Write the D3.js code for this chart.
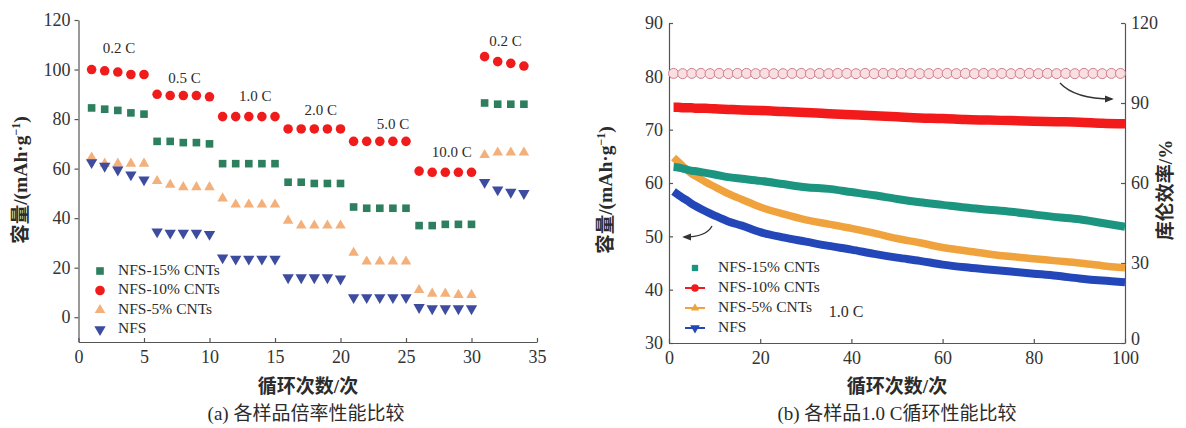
<!DOCTYPE html>
<html>
<head>
<meta charset="utf-8">
<script src="https://cdn.jsdelivr.net/npm/d3@7"></script>
<style>
  html, body { margin: 0; padding: 0; background: #fff; }
  svg text { font-family: "Liberation Serif", "Noto Sans CJK SC", serif; fill: #2b2b2b; }
  .axis path, .axis line { stroke: #555; stroke-width: 1.2; }
  .axis text { font-size: 18px; fill: #333; }
</style>
</head>
<body>
<svg id="chart" width="1186" height="428"></svg>
<script>
// ---------- (a) rate capability ----------
const rateCycles = d3.range(1, 35);
const rateNFS15 = [84.5, 84, 83.5, 82.5, 82,  71, 71, 70.5, 70.5, 70,  62, 62, 62, 62, 62,
                   54.5, 54.5, 54, 54, 54,  44.5, 44, 44, 44, 44,  37, 37, 37.5, 37.5, 37.5,
                   86.5, 86, 86, 86];
const rateNFS10 = [100, 99.5, 99, 98, 98,  90, 89.5, 89.5, 89.5, 89,  81, 81, 81, 81, 81,
                   76, 76, 76, 76, 76,  71, 71, 71, 71, 71,  59, 58.5, 58.5, 58.5, 58.5,
                   105.2, 103.2, 102.5, 101.4];
const rateNFS5  = [64.5, 62, 62, 62, 62,  55, 53.5, 52.5, 52.5, 52.5,  48, 45.5, 45.5, 45.5, 45.5,
                   39, 37, 37, 37, 37,  26, 22.5, 22.5, 22.5, 22.5,  11, 9.5, 9.5, 9, 9,
                   65.5, 66.5, 66.5, 66.5];
const rateNFS   = [62.5, 61, 59.5, 57.5, 55.5,  34.5, 34, 34, 34, 33.5,  24, 23.5, 23.5, 23.5, 23.5,
                   16, 16, 16, 16, 15.5,  8, 8, 8, 8, 8,  4, 3.5, 3.5, 3.5, 3.5,
                   54.5, 51.5, 50.5, 50];
const rateLabels = ["0.2 C", "0.5 C", "1.0 C", "2.0 C", "5.0 C", "10.0 C", "0.2 C"];
const rateLabelCycle = [3.1, 8.1, 13.5, 18.5, 24, 28.5, 32.6];
const rateLabelValue = [108, 96, 88.5, 83, 77.5, 66, 111];
const rateTicksX = [0, 5, 10, 15, 20, 25, 30, 35];
const rateTicksY = [0, 20, 40, 60, 80, 100, 120];

// ---------- (b) cycling at 1.0 C ----------
const cycCycles = [1, 2, 3, 4, 5, 6, 8, 10, 13, 16, 20, 25, 30, 35, 40, 45, 50, 55, 60, 65, 70, 75, 80, 85, 90, 95, 100];
const cycNFS15  = [63.0, 62.9, 62.7, 62.5, 62.3, 62.2, 61.9, 61.6, 61.1, 60.8, 60.4, 59.8, 59.2, 58.9, 58.3, 57.7, 57.0,
                   56.4, 55.9, 55.4, 55.0, 54.6, 54.1, 53.6, 53.2, 52.5, 51.8];
const cycNFS10  = [74.2, 74.2, 74.1, 74.1, 74.1, 74.0, 74.0, 73.9, 73.8, 73.7, 73.6, 73.4, 73.2, 73.0, 72.8, 72.6, 72.4,
                   72.2, 72.1, 71.9, 71.8, 71.7, 71.6, 71.5, 71.4, 71.2, 71.1];
const cycNFS5   = [64.8, 64.0, 63.2, 62.4, 61.7, 61.2, 60.2, 59.3, 58.0, 56.9, 55.5, 54.2, 53.1, 52.3, 51.5, 50.6, 49.6,
                   48.8, 47.9, 47.3, 46.7, 46.2, 45.8, 45.4, 45.0, 44.5, 44.1];
const cycNFS    = [58.4, 57.8, 57.2, 56.7, 56.1, 55.6, 54.7, 53.9, 52.8, 52.0, 50.8, 49.8, 49.0, 48.2, 47.5, 46.7, 46.0,
                   45.4, 44.7, 44.2, 43.8, 43.4, 43.0, 42.6, 42.1, 41.7, 41.4];
const ceCycles  = d3.range(1, 101, 2);
const ceValues  = [101.1, 101.0, 101.1, 101.1, 101.0, 101.1, 101.0, 101.1, 101.1, 101.0,
                   101.1, 101.0, 101.0, 101.1, 101.1, 101.0, 101.1, 101.0, 101.1, 101.1,
                   101.0, 101.1, 101.0, 101.1, 101.0, 101.1, 101.1, 101.0, 101.0, 101.1,
                   101.1, 101.0, 101.1, 101.0, 101.1, 101.0, 101.1, 101.0, 101.1, 101.1,
                   101.0, 101.1, 101.0, 101.1, 101.0, 101.1, 101.1, 101.0, 101.1, 101.1];
const cycTicksX = [0, 20, 40, 60, 80, 100];
const cycTicksYL = [30, 40, 50, 60, 70, 80, 90];
const cycTicksYR = [0, 30, 60, 90, 120];

const seriesNames = ["NFS-15% CNTs", "NFS-10% CNTs", "NFS-5% CNTs", "NFS"];

const svg = d3.select("#chart");
const defs = svg.append("defs");
defs.append("marker")
  .attr("id", "arrowHead").attr("viewBox", "0 0 10 10")
  .attr("refX", 8).attr("refY", 5).attr("markerWidth", 7).attr("markerHeight", 7)
  .attr("orient", "auto-start-reverse")
  .append("path").attr("d", "M0,1 L10,5 L0,9 Z").attr("fill", "#333");

// ================= panel (a) =================
const xa = d3.scaleLinear().domain([0, 35]).range([78.5, 537]);
const ya = d3.scaleLinear().domain([-10, 120]).range([342, 20]);
const ga = svg.append("g");

ga.append("g").attr("class", "axis")
  .attr("transform", `translate(0,${ya(-10)})`)
  .call(d3.axisBottom(xa).tickValues(rateTicksX).tickSize(-4).tickPadding(8).tickSizeOuter(0));
ga.append("g").attr("class", "axis")
  .attr("transform", `translate(${xa(0)},0)`)
  .call(d3.axisLeft(ya).tickValues(rateTicksY).tickSize(4).tickPadding(4).tickSizeOuter(0));

const aStyles = [
  { data: rateNFS15, color: "#2d7f5e", type: d3.symbolSquare, size: 58, rot: 0 },
  { data: rateNFS10, color: "#f01c1c", type: d3.symbolCircle, size: 72, rot: 0 },
  { data: rateNFS5,  color: "#f3b07a", type: d3.symbolTriangle, size: 48, rot: 0 },
  { data: rateNFS,   color: "#3d4c9e", type: d3.symbolTriangle, size: 56, rot: 180 }
];
aStyles.forEach(s => {
  ga.append("g").selectAll("path").data(rateCycles).join("path")
    .attr("d", d3.symbol().type(s.type).size(s.size)())
    .attr("transform", (c, i) => `translate(${xa(c)},${ya(s.data[i])}) rotate(${s.rot})`)
    .attr("fill", s.color);
});

ga.append("g").selectAll("text").data(rateLabels).join("text")
  .attr("x", (t, i) => xa(rateLabelCycle[i]))
  .attr("y", (t, i) => ya(rateLabelValue[i]))
  .attr("text-anchor", "middle").attr("dominant-baseline", "middle")
  .style("font-size", "15px").text(t => t);

// legend (a)
const legA = ga.append("g");
aStyles.forEach((s, i) => {
  const y = 271 + i * 19.5;
  legA.append("path")
    .attr("d", d3.symbol().type(s.type).size(s.size)())
    .attr("transform", `translate(100,${y}) rotate(${s.rot})`)
    .attr("fill", s.color);
  legA.append("text").attr("x", 118).attr("y", y)
    .attr("dominant-baseline", "middle").style("font-size", "15.5px")
    .text(seriesNames[i]);
});

// axis titles (a)
function capacityLabel(g, x, y) {
  const t = g.append("text")
    .attr("transform", `translate(${x},${y}) rotate(-90)`)
    .attr("text-anchor", "middle").style("font-size", "19.5px").style("font-weight", "bold");
  t.append("tspan").text("容量/(mAh·g");
  t.append("tspan").attr("dy", -7).style("font-size", "12px").text("−1");
  t.append("tspan").attr("dy", 7).text(")");
}
capacityLabel(ga, 27, 180);
ga.append("text").attr("x", 308).attr("y", 389).attr("text-anchor", "middle")
  .attr("dominant-baseline", "middle").style("font-size", "19px").style("font-weight", "bold")
  .text("循环次数/次");
ga.append("text").attr("x", 306).attr("y", 416).attr("text-anchor", "middle")
  .attr("dominant-baseline", "middle").style("font-size", "19px")
  .text("(a) 各样品倍率性能比较");

// ================= panel (b) =================
const xb = d3.scaleLinear().domain([0, 100]).range([669, 1125]);
const yb = d3.scaleLinear().domain([30, 90]).range([343, 23]);
const yr = d3.scaleLinear().domain([0, 120]).range([343, 23]);
const gb = svg.append("g");

gb.append("g").attr("class", "axis")
  .attr("transform", `translate(0,${yb(30)})`)
  .call(d3.axisBottom(xb).tickValues(cycTicksX).tickSize(-4).tickPadding(8).tickSizeOuter(0));
gb.append("g").attr("class", "axis")
  .attr("transform", `translate(${xb(0)},0)`)
  .call(d3.axisLeft(yb).tickValues(cycTicksYL).tickSize(-4).tickPadding(6).tickSizeOuter(0));
const rightAxis = gb.append("g").attr("class", "axis")
  .attr("transform", `translate(${xb(100)},0)`)
  .call(d3.axisRight(yr).tickValues(cycTicksYR).tickSize(-4).tickPadding(6).tickSizeOuter(0));
// lift the bottom "0" of the right axis clear of the "100" below it
rightAxis.selectAll(".tick text").filter(d => d === 0).attr("y", -4);

// coulombic efficiency band (right axis)
gb.append("g").selectAll("circle").data(ceCycles).join("circle")
  .attr("cx", c => xb(c))
  .attr("cy", (c, i) => yr(ceValues[i]))
  .attr("r", 5)
  .attr("fill", "#f9dfe2").attr("stroke", "#cf7f8c").attr("stroke-width", 1);

const bStyles = [
  { data: cycNFS15, color: "#1c9580", width: 8 },
  { data: cycNFS10, color: "#f21a1a", width: 9.5 },
  { data: cycNFS5,  color: "#f0a33c", width: 7.5 },
  { data: cycNFS,   color: "#2346b8", width: 8 }
];
const lineB = d3.line().curve(d3.curveMonotoneX);
[2, 3, 0, 1].forEach(k => {
  const s = bStyles[k];
  gb.append("path")
    .attr("d", lineB(cycCycles.map((c, i) => [xb(c), yb(s.data[i])])))
    .attr("fill", "none").attr("stroke", s.color)
    .attr("stroke-width", s.width).attr("stroke-linecap", "butt");
});

// legend (b)
const legB = gb.append("g");
const bMarks = [
  { type: d3.symbolSquare, size: 40, rot: 0, line: false },
  { type: d3.symbolCircle, size: 45, rot: 0, line: true },
  { type: d3.symbolTriangle, size: 30, rot: 0, line: true },
  { type: d3.symbolTriangle, size: 40, rot: 180, line: true }
];
bMarks.forEach((m, i) => {
  const y = 268 + i * 20;
  const col = bStyles[i].color;
  if (m.line) {
    legB.append("line").attr("x1", 685).attr("x2", 705).attr("y1", y).attr("y2", y)
      .attr("stroke", col).attr("stroke-width", 2);
  }
  legB.append("path")
    .attr("d", d3.symbol().type(m.type).size(m.size)())
    .attr("transform", `translate(695,${y}) rotate(${m.rot})`)
    .attr("fill", col);
  legB.append("text").attr("x", 718).attr("y", y)
    .attr("dominant-baseline", "middle").style("font-size", "15.5px")
    .text(seriesNames[i]);
});

gb.append("text").attr("x", 846).attr("y", 313).attr("text-anchor", "middle")
  .attr("dominant-baseline", "middle").style("font-size", "16px").text("1.0 C");

// pointer arrows to the two y axes
gb.append("path").attr("d", "M1060,83 C1072,96 1092,99 1112,99")
  .attr("fill", "none").attr("stroke", "#333").attr("stroke-width", 1.3)
  .attr("marker-end", "url(#arrowHead)");
gb.append("path").attr("d", "M712,226 C708,234 698,237 684,237")
  .attr("fill", "none").attr("stroke", "#333").attr("stroke-width", 1.3)
  .attr("marker-end", "url(#arrowHead)");

// axis titles (b)
capacityLabel(gb, 612, 190);
gb.append("text")
  .attr("transform", "translate(1168,190) rotate(-90)")
  .attr("text-anchor", "middle").attr("dominant-baseline", "middle")
  .style("font-size", "19px").style("font-weight", "bold")
  .text("库伦效率/%");
gb.append("text").attr("x", 897).attr("y", 389).attr("text-anchor", "middle")
  .attr("dominant-baseline", "middle").style("font-size", "19px").style("font-weight", "bold")
  .text("循环次数/次");
gb.append("text").attr("x", 897).attr("y", 416).attr("text-anchor", "middle")
  .attr("dominant-baseline", "middle").style("font-size", "19px")
  .text("(b) 各样品1.0 C循环性能比较");
</script>
</body>
</html>
